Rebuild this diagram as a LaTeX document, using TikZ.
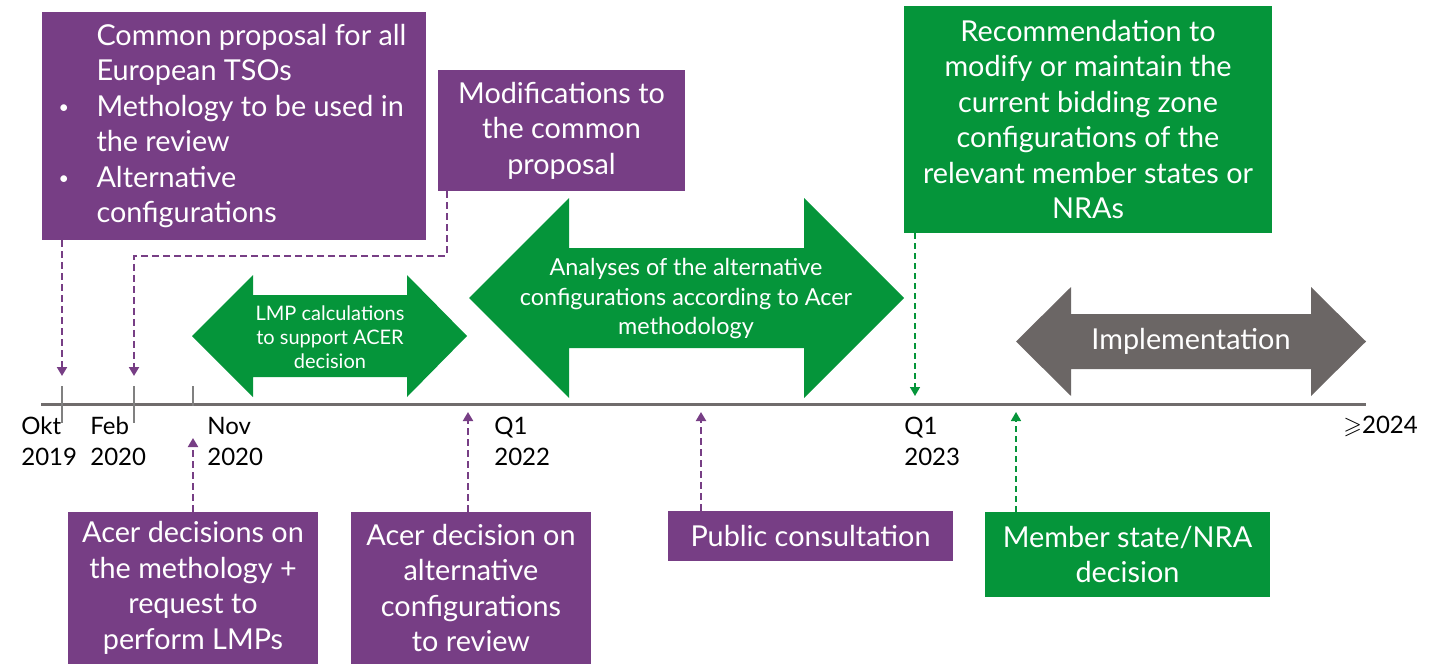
\documentclass[tikz,border=0pt]{standalone}
\usepackage{fontspec}
\setmainfont{Lato}
\usepackage{amssymb}
\usetikzlibrary{positioning,arrows.meta}

\definecolor{tsopurple}{RGB}{119,62,133}
\definecolor{tsogreen}{RGB}{5,149,58}
\definecolor{implgrey}{RGB}{107,102,101}
\definecolor{axisgrey}{RGB}{112,108,108}

% list lines inside the first box
\newcommand{\bulitem}{\makebox[17.5pt][l]{\hspace*{-1.5pt}\raisebox{1.4pt}{\fontsize{9}{9}\selectfont\textbullet}}}
\newcommand{\noitem}{\hspace*{17.5pt}}

\tikzset{
  box/.style={rectangle, inner sep=0pt, text=white, align=center,
    font=\fontsize{14.4}{17.75}\selectfont},
  pbox/.style={box, fill=tsopurple},
  gbox/.style={box, fill=tsogreen},
  date/.style={anchor=west, inner sep=0pt, align=left,
    font=\fontsize{12}{15.5}\selectfont},
  pdash/.style={tsopurple, line width=1pt, dash pattern=on 3.5pt off 2pt},
  gdash/.style={tsogreen, line width=0.75pt, dash pattern=on 3pt off 2pt},
  tick/.style={gray, line width=0.6pt},
  >={Triangle[length=4.5pt,width=5pt]},
}

\begin{document}
\begin{tikzpicture}[x=0.5pt,y=-0.5pt]
    \useasboundingbox (0,0) rectangle (1441,664);

    % time axis
    \draw[axisgrey, line width=1.5pt] (41,404) -- (1366,404);
    \draw[tick] (62,386) -- (62,423);
    \draw[tick] (134,386) -- (134,423);
    \draw[tick] (193,386) -- (193,406);

    \node[date] (okt) at (21,441) {Okt\\2019};
    \node[date] (feb) at (90,441) {Feb\\2020};
    \node[date] (nov) at (207,441) {Nov\\2020};
    \node[date] (q22) at (494,441) {Q1\\2022};
    \node[date] (q23) at (904,441) {Q1\\2023};
    \node[date] (end) at (1343,426) {$\geqslant$2024};

    % phases
    \fill[tsogreen] (192,336) -- (253,275) -- (253,295) -- (407,295) -- (407,275)
        -- (467,336) -- (407,397) -- (407,377) -- (253,377) -- (253,397) -- cycle;
    \node[text=white, align=center, font=\fontsize{10}{12}\selectfont] (lmp)
        at (330,337) {LMP calculations\\to support ACER\\decision};

    \fill[tsogreen] (469,298) -- (569,198) -- (569,248) -- (804,248) -- (804,198)
        -- (904,298) -- (804,398) -- (804,348) -- (569,348) -- (569,398) -- cycle;
    \node[text=white, align=center, font=\fontsize{11.7}{14.75}\selectfont] (ana)
        at (686,299) {Analyses of the alternative\\configurations according to Acer\\methodology};

    \fill[implgrey] (1016,341.5) -- (1071,287) -- (1071,314) -- (1311,314) -- (1311,287)
        -- (1366,341.5) -- (1311,396) -- (1311,369) -- (1071,369) -- (1071,396) -- cycle;
    \node[text=white, font=\fontsize{14.4}{17.75}\selectfont] (impl)
        at (1191,341) {Implementation};

    % boxes above the axis
    \node[pbox, align=left, minimum width=192pt, minimum height=114pt] (common) at (234,126)
        {\noitem Common proposal for all\\ \noitem European TSOs\\
         \bulitem Methology to be used in\\ \noitem the review\\
         \bulitem Alternative\\ \noitem configurations};
    \node[pbox, minimum width=123.5pt, minimum height=60.5pt] (mods) at (561.5,130.5)
        {Modifications to\\the common\\proposal};
    \node[gbox, minimum width=184pt, minimum height=113.5pt] (rec) at (1088,119.5)
        {Recommendation to\\modify or maintain the\\current bidding zone\\configurations of the\\relevant member states or\\NRAs};

    % boxes below the axis
    \node[pbox, minimum width=125pt, minimum height=76pt] (acermeth) at (193,588)
        {Acer decisions on\\the methology +\\request to\\perform LMPs};
    \node[pbox, minimum width=120pt, minimum height=76pt] (aceralt) at (471,588)
        {Acer decision on\\alternative\\configurations\\to review};
    \node[pbox, minimum width=142.5pt, minimum height=25pt] (pub) at (810.5,536)
        {Public consultation};
    \node[gbox, minimum width=142.5pt, minimum height=42.5pt] (msd) at (1127.5,554.5)
        {Member state/NRA\\decision};

    % event markers
    \coordinate (tokt) at (62,376);
    \coordinate (tfeb) at (134,376);
    \coordinate (bend) at (134,256);
    \coordinate (tq23) at (915,396);
    \coordinate (tnov) at (193,438);
    \coordinate (tq22) at (468,412);
    \coordinate (tpub) at (701,412);
    \coordinate (tmsd) at (1016,412);

    \draw[pdash,->] (common.south -| tokt) -- (tokt);
    \draw[pdash,->] ([xshift=4.5pt]mods.south west) |- (bend) -- (tfeb);
    \draw[gdash,->] (rec.south -| tq23) -- (tq23);
    \draw[pdash,->] (acermeth.north -| tnov) -- (tnov);
    \draw[pdash,->] (aceralt.north -| tq22) -- (tq22);
    \draw[pdash,->] (pub.north -| tpub) -- (tpub);
    \draw[gdash,->] (msd.north -| tmsd) -- (tmsd);
\end{tikzpicture}
\end{document}
